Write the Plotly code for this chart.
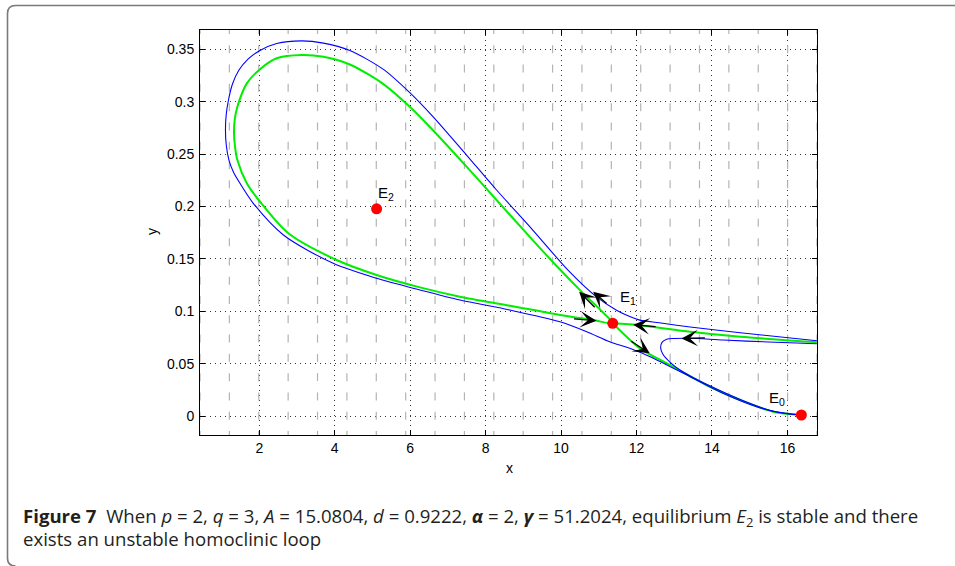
import numpy as np
import plotly.graph_objects as go

# ---------------- data ----------------
x_range = [0.429, 16.784]
y_range = [-0.0181, 0.3684]

x_ticks = [2, 4, 6, 8, 10, 12, 14, 16]
x_tick_labels = ["2", "4", "6", "8", "10", "12", "14", "16"]
y_ticks = [0, 0.05, 0.1, 0.15, 0.2, 0.25, 0.3, 0.35]
y_tick_labels = ["0", "0.05", "0.1", "0.15", "0.2", "0.25", "0.3", "0.35"]

# homoclinic loop (green)
green_loop_x = [11.37, 11.07, 10.58, 9.92, 9.17, 8.29, 7.50, 6.61, 5.99, 5.29, 4.40, 3.70, 3.12, 2.46,
                2.02, 1.67, 1.42, 1.35, 1.33, 1.36, 1.42, 1.67, 2.02, 2.77, 4.05, 5.11, 6.26, 7.32, 8.64,
                9.97, 10.85, 11.37]
green_loop_y = [0.0885, 0.1002, 0.1173, 0.1417, 0.1710, 0.2062, 0.2378, 0.2725, 0.2951, 0.3168, 0.3355,
                0.3429, 0.3446, 0.3414, 0.3310, 0.3175, 0.2952, 0.2830, 0.2698, 0.2565, 0.2443, 0.2221,
                0.2045, 0.1744, 0.1489, 0.1346, 0.1228, 0.1139, 0.1053, 0.0964, 0.0916, 0.0885]
# stable manifold from the right (green)
green_right_x = [11.37, 12.09, 13.42, 14.75, 16.78]
green_right_y = [0.0885, 0.0866, 0.0805, 0.0757, 0.0705]
# unstable manifold towards E0 (green)
green_down_x = [11.37, 12.09, 12.97, 13.85, 14.75, 15.62, 16.38]
green_down_y = [0.0885, 0.0646, 0.0471, 0.0296, 0.0153, 0.0041, 0.001]

# outer trajectory (blue)
blue_outer_x = [16.78, 14.75, 13.42, 12.60, 12.09, 11.82, 11.47, 10.94, 10.19, 9.25, 8.29, 7.50, 6.61,
                5.99, 5.29, 4.40, 3.70, 3.12, 2.461, 2.019, 1.701, 1.462, 1.290, 1.184, 1.123, 1.104,
                1.125, 1.196, 1.315, 1.488, 1.841, 2.64, 3.96, 5.11, 6.26, 7.32, 8.64, 9.97, 10.68, 11.29,
                11.82, 12.36, 13.42, 14.29, 15.18, 16.02, 16.38]
blue_outer_y = [0.0718, 0.0795, 0.0850, 0.0890, 0.0915, 0.0950, 0.1010, 0.1137, 0.1390, 0.1775, 0.2157,
                0.2488, 0.2855, 0.3086, 0.3308, 0.3488, 0.3559, 0.3580, 0.3555, 0.3489, 0.3407, 0.3302,
                0.3169, 0.3016, 0.2873, 0.2730, 0.2587, 0.2443, 0.2329, 0.2221, 0.2030, 0.1728, 0.1457,
                0.1314, 0.1203, 0.1107, 0.1012, 0.0900, 0.0805, 0.0709, 0.0646, 0.0566, 0.0375, 0.0217,
                0.0089, 0.0019, 0.001]
# hook trajectory (blue)
blue_hook_x = [16.78, 15.5, 14.3, 13.42, 13.0, 12.8, 12.68, 12.64, 12.7, 12.9, 13.16, 13.87, 14.75, 15.62, 16.38]
blue_hook_y = [0.0690, 0.0707, 0.0725, 0.0742, 0.0740, 0.0733, 0.0705, 0.0650, 0.0590, 0.0510, 0.0437,
               0.0300, 0.0158, 0.0045, 0.001]

# equilibria
eq_names = ["E<sub>0</sub>", "E<sub>1</sub>", "E<sub>2</sub>"]
eq_x = [16.37, 11.37, 5.11]
eq_y = [0.001, 0.0885, 0.1978]
label_x = [15.47, 11.51, 5.10]
label_y = [0.0172, 0.1136, 0.2119]

# arrows: tip position and tail offset (pixels)
arrow_x = [10.48, 10.85, 10.94, 11.91, 12.35, 13.19]
arrow_y = [0.1186, 0.1186, 0.0910, 0.0871, 0.0598, 0.0741]
arrow_ax = [17, 15, -24, 24, -20, 25]
arrow_ay = [17, 13, -2, 2, -13, -0.5]

# quiver-like field lattice (22 x 22 over the axes box)
n_q = 22

# ---------------- figure ----------------
W, H = 955, 566
L, R, T, B = 200, 138, 30, 131
pw, ph = W - L - R, H - T - B


def px(xp):
    return (xp - L) / pw


def py(yp):
    return (H - B - yp) / ph


fig = go.Figure()

# faint field dashes
qx = np.linspace(x_range[0], x_range[1], n_q)
qy = np.linspace(y_range[0], y_range[1], n_q)
half = 4.0 / (ph / (y_range[1] - y_range[0]))
fx, fy = [], []
for xv in qx:
    for yv in qy:
        fx += [xv, xv, None]
        fy += [yv - half, yv + half, None]
fig.add_trace(go.Scatter(x=fx, y=fy, mode="lines", line=dict(color="#b4b4b4", width=1.2),
                         hoverinfo="skip", showlegend=False))

line_kw = dict(shape="spline", smoothing=0.8)
for gx, gy in [(green_loop_x, green_loop_y), (green_right_x, green_right_y), (green_down_x, green_down_y)]:
    fig.add_trace(go.Scatter(x=gx, y=gy, mode="lines", line=dict(color="#00ee00", width=2, **line_kw),
                             showlegend=False))
for bx, by in [(blue_outer_x, blue_outer_y), (blue_hook_x, blue_hook_y)]:
    fig.add_trace(go.Scatter(x=bx, y=by, mode="lines", line=dict(color="#0000ff", width=1.1, **line_kw),
                             showlegend=False))

fig.add_trace(go.Scatter(x=eq_x, y=eq_y, mode="markers", marker=dict(color="#ff0000", size=11),
                         showlegend=False, cliponaxis=False))

for n, lx, ly in zip(eq_names, label_x, label_y):
    fig.add_annotation(x=lx, y=ly, text=n, showarrow=False, xanchor="left", yanchor="middle",
                       font=dict(family="Liberation Sans, Arial", size=15, color="black"))

for axx, ayy, dx, dy in zip(arrow_x, arrow_y, arrow_ax, arrow_ay):
    fig.add_annotation(x=axx, y=ayy, ax=dx, ay=dy, text="", showarrow=True, arrowhead=3,
                       arrowsize=2.3, arrowwidth=1.2, arrowcolor="black", standoff=0)

# axis titles
fig.add_annotation(xref="paper", yref="paper", x=px(509), y=py(468), text="x", showarrow=False,
                   xanchor="center", yanchor="middle",
                   font=dict(family="Liberation Sans, Arial", size=14, color="black"))
fig.add_annotation(xref="paper", yref="paper", x=px(152), y=py(232), text="y", showarrow=False,
                   xanchor="center", yanchor="middle", textangle=-90,
                   font=dict(family="Liberation Sans, Arial", size=14, color="black"))

# caption
cap_font = dict(family="Open Sans, Noto Sans", size=18.6, color="#231f20")
fig.add_annotation(xref="paper", yref="paper", x=px(21), y=py(517), xanchor="left", yanchor="middle",
                   showarrow=False, font=cap_font,
                   text="<b>Figure 7</b>  When <i>p</i> = 2, <i>q</i> = 3, <i>A</i> = 15.0804, <i>d</i> = 0.9222, "
                        "<b><i>α</i></b> = 2, <b><i>γ</i></b> = 51.2024, equilibrium <i>E</i><sub>2</sub> is stable and there")
fig.add_annotation(xref="paper", yref="paper", x=px(21), y=py(538), xanchor="left", yanchor="middle",
                   showarrow=False, font=cap_font, text="exists an unstable homoclinic loop")

# frame around figure
r = 8
x0, y0, ybot = 7.5, 5.5, 566
path = (f"M {px(960)},{py(y0)} L {px(x0 + r)},{py(y0)} Q {px(x0)},{py(y0)} {px(x0)},{py(y0 + r)} "
        f"L {px(x0)},{py(ybot - r)} Q {px(x0)},{py(ybot)} {px(x0 + r)},{py(ybot)}")
fig.add_shape(type="path", xref="paper", yref="paper", path=path, line=dict(color="#7a7a7a", width=1.6))

axis_common = dict(showline=True, linecolor="black", linewidth=1, mirror="ticks", ticks="inside",
                   ticklen=5, tickcolor="black", showgrid=True, gridcolor="#333333", griddash="1px,4px",
                   gridwidth=1, zeroline=False,
                   tickfont=dict(family="Liberation Sans, Arial", size=14, color="black"))

fig.update_xaxes(range=x_range, tickmode="array", tickvals=x_ticks, ticktext=x_tick_labels, **axis_common)
fig.update_yaxes(range=y_range, tickmode="array", tickvals=y_ticks, ticktext=y_tick_labels,
                 ticklabelstandoff=2, **axis_common)

fig.update_layout(width=W, height=H, autosize=False, margin=dict(l=L, r=R, t=T, b=B),
                  paper_bgcolor="white", plot_bgcolor="white", showlegend=False)

fig.write_html("out.html", config={"displayModeBar": False},
               post_script="document.body.style.margin='0px';document.body.style.overflow='hidden';")
